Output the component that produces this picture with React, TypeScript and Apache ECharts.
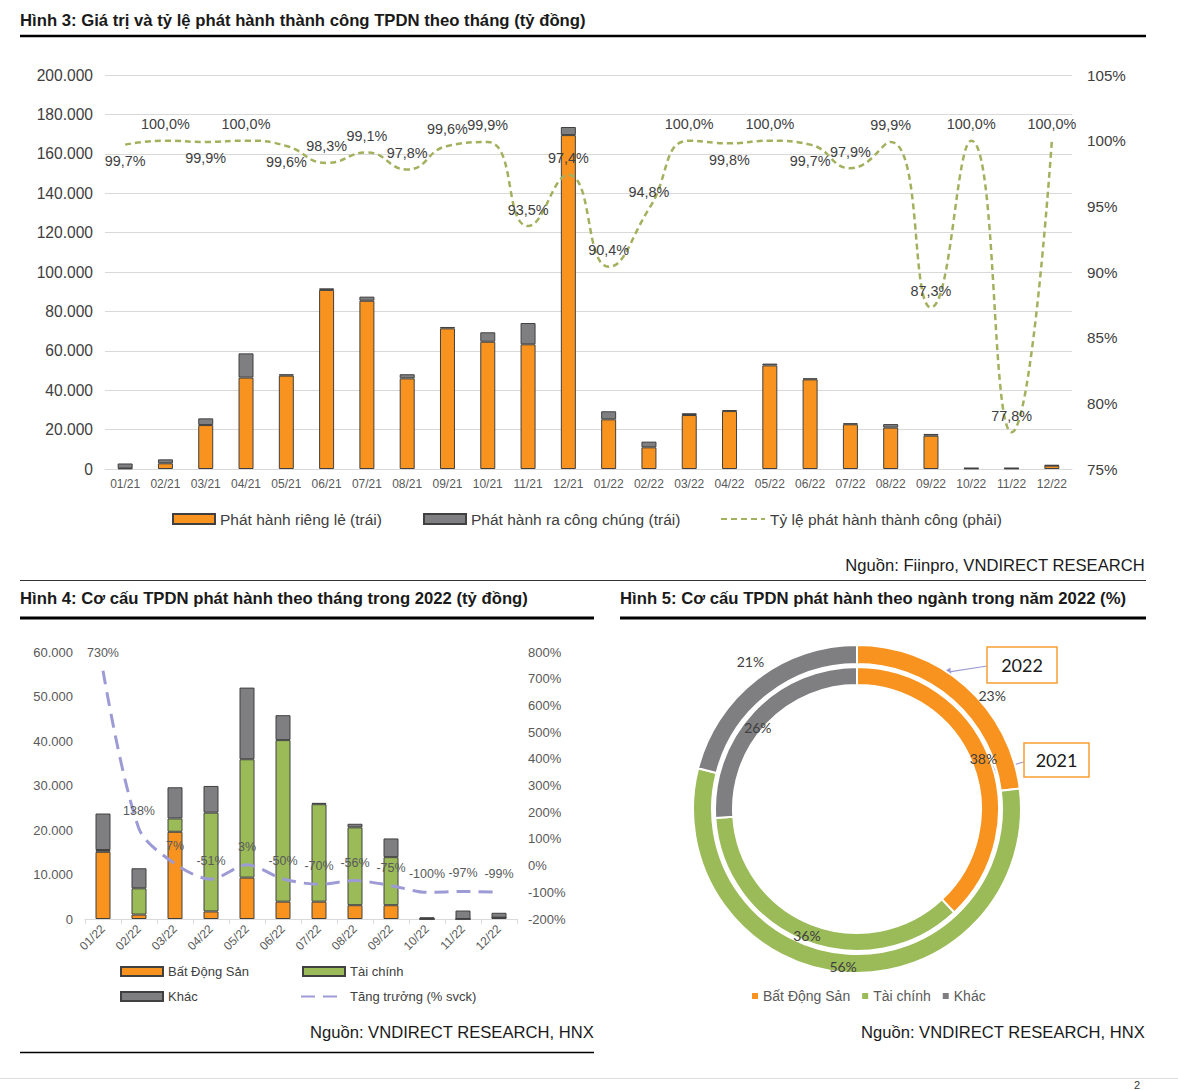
import React, { useEffect, useRef } from 'react';
import * as echarts from 'echarts';

// ---------- DATA ----------
const months2122 = [
  '01/21', '02/21', '03/21', '04/21', '05/21', '06/21', '07/21', '08/21', '09/21', '10/21', '11/21', '12/21',
  '01/22', '02/22', '03/22', '04/22', '05/22', '06/22', '07/22', '08/22', '09/22', '10/22', '11/22', '12/22',
];
// Phát hành riêng lẻ (tỷ đồng)
const privateIssuance = [
  300, 2900, 22300, 46400, 47400, 90900, 85400, 46000, 71400, 64600, 63300, 169500,
  25200, 11000, 27400, 29400, 52600, 45500, 22700, 21000, 16900, 300, 300, 1700,
];
// Phát hành ra công chúng (tỷ đồng)
const publicIssuance = [
  2500, 2000, 3400, 12300, 700, 800, 2100, 2100, 700, 4800, 10800, 4100,
  4100, 2900, 900, 500, 900, 500, 500, 1800, 900, 200, 200, 300,
];
// Tỷ lệ phát hành thành công (%)
const successRate = [
  99.7, 100.0, 99.9, 100.0, 99.6, 98.3, 99.1, 97.8, 99.6, 99.9, 93.5, 97.4,
  90.4, 94.8, 100.0, 99.8, 100.0, 99.7, 97.9, 99.9, 87.3, 100.0, 77.8, 100.0,
];
const leftTicks3 = { min: 0, max: 200000, interval: 20000 };
const rightTicks3 = { min: 75, max: 105, interval: 5 };

const months22 = ['01/22', '02/22', '03/22', '04/22', '05/22', '06/22', '07/22', '08/22', '09/22', '10/22', '11/22', '12/22'];
const realEstate = [15100, 1000, 19600, 1700, 9300, 3900, 3900, 3100, 3100, 0, 0, 300];
const finance = [400, 5900, 3000, 22200, 26600, 36300, 21900, 17500, 10800, 0, 0, 0];
const others = [8200, 4500, 7000, 6000, 16100, 5600, 300, 800, 4200, 400, 1900, 1100];
const growth = [730, 138, 7, -51, 3, -50, -70, -56, -75, -100, -97, -99];
const leftTicks4 = { min: 0, max: 60000, interval: 10000 };
const rightTicks4 = { min: -200, max: 800, interval: 100 };

const sectors = ['Bất Động Sản', 'Tài chính', 'Khác'];
const share2021 = [38, 36, 26];
const share2022 = [23, 56, 21];

// ---------- STYLE ----------
const FONT = '"Liberation Sans", Arial, sans-serif';
const PIE_FONT = 'Lato, "Open Sans", sans-serif';
const ORANGE = '#F7931E';
const GREEN = '#9BBB59';
const GRAY = '#7F7F82';
const BORDER = '#404040';
const RATE_BELOW = new Set([0, 2, 4, 15, 17]);
const OUTER_LABEL_SHIFT = [[31, 5], [-4, 0], [-10, -23]];
const INNER_LABEL_SHIFT = [[0, 0], [0, 0], [0, 12]];

const fmtThousands = (v: number) => String(v).replace(/\B(?=(\d{3})+(?!\d))/g, '.');

function buildOption() {
  const titleStyle = { fontSize: 16.7, fontWeight: 'bold', color: '#1a1a1a', fontFamily: FONT };
  const srcStyle = { fontSize: 16.6, fontWeight: 'normal', color: '#1a1a1a', fontFamily: FONT };
  const legText = { fontSize: 15.5, color: '#404040', fontFamily: FONT };
  const legText4 = { fontSize: 13, color: '#404040', fontFamily: FONT };

  const hline = (x1: number, x2: number, y: number, w: number, c = '#000') => ({
    type: 'line', shape: { x1, y1: y, x2, y2: y }, style: { stroke: c, lineWidth: w }, silent: true,
  });

  return {
    animation: false,
    backgroundColor: '#ffffff',
    textStyle: { fontFamily: FONT },
    title: [
      { text: 'Hình 3: Giá trị và tỷ lệ phát hành thành công TPDN theo tháng (tỷ đồng)', left: 20, top: 12, padding: 0, textStyle: titleStyle },
      { text: 'Nguồn: Fiinpro, VNDIRECT RESEARCH', right: 33, top: 557, padding: 0, textStyle: srcStyle },
      { text: 'Hình 4: Cơ cấu TPDN phát hành theo tháng trong 2022 (tỷ đồng)', left: 20, top: 590, padding: 0, textStyle: titleStyle },
      { text: 'Hình 5: Cơ cấu TPDN phát hành theo ngành trong năm 2022 (%)', left: 620, top: 590, padding: 0, textStyle: titleStyle },
      { text: 'Nguồn: VNDIRECT RESEARCH, HNX', right: 584, top: 1024, padding: 0, textStyle: srcStyle },
      { text: 'Nguồn: VNDIRECT RESEARCH, HNX', right: 33, top: 1024, padding: 0, textStyle: srcStyle },
    ],
    legend: [
      { data: ['Phát hành riêng lẻ (trái)'], left: 172, top: 511, icon: 'rect', itemWidth: 42, itemHeight: 10, padding: 0, selectedMode: false, textStyle: legText },
      { data: ['Phát hành ra công chúng (trái)'], left: 423, top: 511, icon: 'rect', itemWidth: 42, itemHeight: 10, padding: 0, selectedMode: false, textStyle: legText },
      { data: ['Tỷ lệ phát hành thành công (phải)'], left: 720, top: 511, itemWidth: 44, itemHeight: 10, padding: 0, selectedMode: false, textStyle: legText },
      { data: ['Bất Động Sản'], left: 120, top: 965, icon: 'rect', itemWidth: 42, itemHeight: 9, padding: 0, selectedMode: false, textStyle: legText4 },
      { data: ['Tài chính'], left: 302, top: 965, icon: 'rect', itemWidth: 42, itemHeight: 9, padding: 0, selectedMode: false, textStyle: legText4 },
      { data: ['Khác'], left: 120, top: 990, icon: 'rect', itemWidth: 42, itemHeight: 9, padding: 0, selectedMode: false, textStyle: legText4 },
      { data: ['Tăng trưởng (% svck)'], left: 300, top: 990, itemWidth: 44, itemHeight: 9, padding: 0, selectedMode: false, textStyle: legText4 },
      {
        data: sectors, left: 752, top: 989, icon: 'rect', itemWidth: 6, itemHeight: 6, itemGap: 12, padding: 0,
        selectedMode: false, itemStyle: { borderWidth: 0 }, textStyle: { fontSize: 14, color: '#595959', fontFamily: FONT },
      },
    ],
    grid: [
      { left: 105, top: 75, width: 967, height: 394, containLabel: false, outerBoundsMode: 'none' },
      { left: 85, top: 652, width: 432, height: 267, containLabel: false, outerBoundsMode: 'none' },
    ],
    xAxis: [
      {
        type: 'category', gridIndex: 0, data: months2122,
        axisLine: { lineStyle: { color: '#D9D9D9', width: 1 } }, axisTick: { show: false },
        axisLabel: { interval: 0, fontSize: 12, color: '#595959', margin: 9 },
      },
      {
        type: 'category', gridIndex: 1, data: months22,
        axisLine: { lineStyle: { color: '#D9D9D9', width: 1 } },
        axisTick: { show: true, length: 5, lineStyle: { color: '#D9D9D9' } },
        axisLabel: { interval: 0, rotate: 45, fontSize: 12, color: '#595959', margin: 8 },
      },
    ],
    yAxis: [
      {
        type: 'value', gridIndex: 0, ...leftTicks3,
        axisLabel: { formatter: fmtThousands, fontSize: 15.6, color: '#404040', margin: 12 },
        splitLine: { lineStyle: { color: '#D9D9D9' } }, axisLine: { show: false }, axisTick: { show: false },
      },
      {
        type: 'value', gridIndex: 0, position: 'right', ...rightTicks3,
        axisLabel: { formatter: '{value}%', fontSize: 15.2, color: '#404040', margin: 15 },
        splitLine: { show: false }, axisLine: { show: false }, axisTick: { show: false },
      },
      {
        type: 'value', gridIndex: 1, ...leftTicks4,
        axisLabel: { formatter: fmtThousands, fontSize: 13, color: '#595959', margin: 12 },
        splitLine: { show: false }, axisLine: { show: false }, axisTick: { show: false },
      },
      {
        type: 'value', gridIndex: 1, position: 'right', ...rightTicks4,
        axisLabel: { formatter: '{value}%', fontSize: 13, color: '#595959', margin: 11 },
        splitLine: { show: false }, axisLine: { show: false }, axisTick: { show: false },
      },
    ],
    series: [
      {
        name: 'Phát hành riêng lẻ (trái)', type: 'bar', xAxisIndex: 0, yAxisIndex: 0, stack: 'h3', barWidth: 15,
        data: privateIssuance, itemStyle: { color: ORANGE, borderColor: BORDER, borderWidth: 1 },
      },
      {
        name: 'Phát hành ra công chúng (trái)', type: 'bar', xAxisIndex: 0, yAxisIndex: 0, stack: 'h3', barWidth: 15,
        data: publicIssuance, itemStyle: { color: GRAY, borderColor: BORDER, borderWidth: 1 },
      },
      {
        name: 'Tỷ lệ phát hành thành công (phải)', type: 'line', xAxisIndex: 0, yAxisIndex: 1, smooth: 0.5,
        symbol: 'circle', symbolSize: 1, itemStyle: { color: 'rgba(0,0,0,0)' },
        lineStyle: { color: '#A5B05E', width: 2.5, type: [6, 4] },
        data: successRate.map((v, i) => ({
          value: v,
          label: { position: RATE_BELOW.has(i) ? 'bottom' : 'top' },
        })),
        label: {
          show: true, distance: 9, fontSize: 14.4, color: '#404040', fontFamily: FONT,
          formatter: (p: any) => `${Number(p.value).toFixed(1).replace('.', ',')}%`,
        },
        z: 5,
      },
      {
        name: 'Bất Động Sản', type: 'bar', xAxisIndex: 1, yAxisIndex: 2, stack: 'h4', barWidth: 15,
        data: realEstate, itemStyle: { color: ORANGE, borderColor: BORDER, borderWidth: 1 },
      },
      {
        name: 'Tài chính', type: 'bar', xAxisIndex: 1, yAxisIndex: 2, stack: 'h4', barWidth: 15,
        data: finance, itemStyle: { color: GREEN, borderColor: BORDER, borderWidth: 1 },
      },
      {
        name: 'Khác', type: 'bar', xAxisIndex: 1, yAxisIndex: 2, stack: 'h4', barWidth: 15,
        data: others, itemStyle: { color: GRAY, borderColor: BORDER, borderWidth: 1 },
      },
      {
        name: 'Tăng trưởng (% svck)', type: 'line', xAxisIndex: 1, yAxisIndex: 3, smooth: 0.3,
        symbol: 'circle', symbolSize: 1, itemStyle: { color: 'rgba(0,0,0,0)' },
        lineStyle: { color: '#9D9BD6', width: 3, type: [14, 8] },
        data: growth,
        label: { show: true, position: 'top', distance: 11, fontSize: 12.5, color: '#595959', fontFamily: FONT, formatter: '{c}%' },
        z: 5,
      },
      {
        name: '2021', type: 'pie', center: [857, 809], radius: [124, 142], startAngle: 90, clockwise: true,
        itemStyle: { borderColor: '#ffffff', borderWidth: 2 },
        label: { show: true, position: 'inside', formatter: '{c}%', fontSize: 14, color: '#404040', fontFamily: PIE_FONT },
        labelLine: { show: false },
        labelLayout: (p: any) => ({ dx: INNER_LABEL_SHIFT[p.dataIndex][0], dy: INNER_LABEL_SHIFT[p.dataIndex][1] }),
        emphasis: { disabled: true },
        data: sectors.map((n, i) => ({ name: n, value: share2021[i], itemStyle: { color: [ORANGE, GREEN, GRAY][i] } })),
      },
      {
        name: '2022', type: 'pie', center: [857, 809], radius: [145, 164], startAngle: 90, clockwise: true,
        itemStyle: { borderColor: '#ffffff', borderWidth: 2 },
        label: { show: true, position: 'inside', formatter: '{c}%', fontSize: 14, color: '#404040', fontFamily: PIE_FONT },
        labelLine: { show: false },
        labelLayout: (p: any) => ({ dx: OUTER_LABEL_SHIFT[p.dataIndex][0], dy: OUTER_LABEL_SHIFT[p.dataIndex][1] }),
        emphasis: { disabled: true },
        data: sectors.map((n, i) => ({ name: n, value: share2022[i], itemStyle: { color: [ORANGE, GREEN, GRAY][i] } })),
      },
    ],
    graphic: [
      hline(20, 1146, 36, 2.5),
      hline(20, 1146, 580.5, 1, '#333'),
      hline(20, 594, 618, 3),
      hline(620, 1146, 618, 3),
      hline(20, 594, 1052.5, 1.5),
      hline(0, 1178, 1078.5, 1, '#DDDDDD'),
      { type: 'text', left: 1134, top: 1079, style: { text: '2', fontSize: 11, fill: '#333', fontFamily: FONT }, silent: true },
      // callout 2022
      { type: 'line', shape: { x1: 987, y1: 666, x2: 951, y2: 671.6 }, style: { stroke: '#9D9BD6', lineWidth: 1.2 }, silent: true },
      { type: 'polygon', shape: { points: [[942, 673], [951.5, 675.5], [950.3, 667.6]] }, style: { fill: '#9D9BD6' }, silent: true },
      { type: 'rect', shape: { x: 987, y: 647, width: 70, height: 36 }, style: { fill: '#fff', stroke: '#F7A035', lineWidth: 1.5 }, silent: true },
      { type: 'text', x: 1022, y: 665, style: { text: '2022', fontSize: 18, fill: '#1a1a1a', fontFamily: PIE_FONT, align: 'center', verticalAlign: 'middle' }, silent: true },
      // callout 2021
      { type: 'line', shape: { x1: 1024, y1: 762, x2: 994.7, y2: 769.7 }, style: { stroke: '#9D9BD6', lineWidth: 1.2 }, silent: true },
      { type: 'polygon', shape: { points: [[986, 772], [995.7, 773.6], [993.7, 765.8]] }, style: { fill: '#9D9BD6' }, silent: true },
      { type: 'rect', shape: { x: 1024, y: 743, width: 65, height: 34 }, style: { fill: '#fff', stroke: '#F7A035', lineWidth: 1.5 }, silent: true },
      { type: 'text', x: 1056.5, y: 760, style: { text: '2021', fontSize: 18, fill: '#1a1a1a', fontFamily: PIE_FONT, align: 'center', verticalAlign: 'middle' }, silent: true },
    ],
  };
}

export default function App() {
  const ref = useRef<HTMLDivElement>(null);
  useEffect(() => {
    document.body.style.margin = '0';
    if (!ref.current) return;
    const chart = echarts.init(ref.current, undefined, { renderer: 'svg' });
    chart.setOption(buildOption() as any);
    return () => chart.dispose();
  }, []);
  return <div ref={ref} style={{ width: 1178, height: 1090, background: '#fff' }} />;
}
